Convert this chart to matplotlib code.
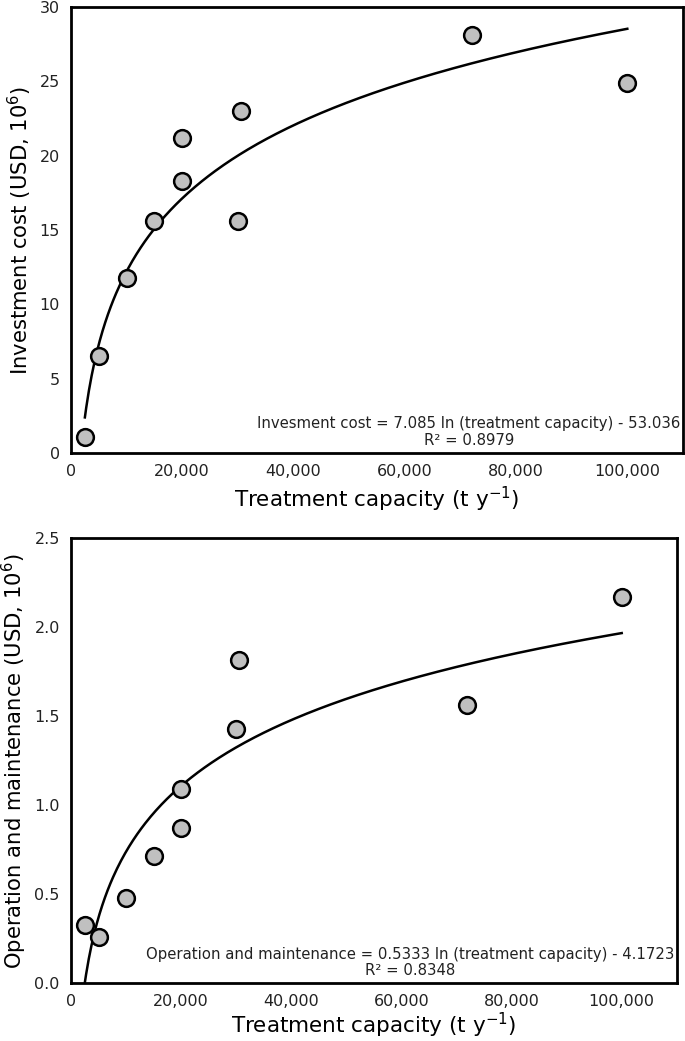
import matplotlib
matplotlib.use("Agg")
import matplotlib.pyplot as plt
import numpy as np
from matplotlib.ticker import FuncFormatter

# capacity (t/y) and costs (USD, 10^6)
cap = [2500, 5000, 10000, 15000, 20000, 20000, 30000, 30500, 72000, 100000]
inv = [1.1, 6.5, 11.8, 15.6, 18.3, 21.2, 15.6, 23.0, 28.1, 24.9]

cap_om = [2500, 5000, 10000, 15000, 20000, 20000, 30000, 30500, 72000, 100000]
om = [0.33, 0.26, 0.48, 0.715, 0.87, 1.09, 1.43, 1.815, 1.565, 2.17]

# log fits as given in the figure
fit_inv = (7.085, -53.036, 0.8979)
fit_om = (0.5333, -4.1723, 0.8348)

plt.rcParams.update({'font.family': 'DejaVu Sans', 'font.size': 10})

fig = plt.figure(figsize=(6.85, 10.41), dpi=100)
ax1 = fig.add_axes([0.1036, 0.5648, 0.8934, 0.4285])
ax2 = fig.add_axes([0.1036, 0.0554, 0.8844, 0.4275])

thou = FuncFormatter(lambda v, p: '{:,.0f}'.format(v))
xs = np.linspace(2500, 100000, 400)


def panel(ax, x, y, fit, ylim, yticks, yfmt, ylabel, eqtext, xpad):
    a, b, r2 = fit
    ax.plot(xs, a*np.log(xs) + b, color='black', lw=1.8, zorder=2)
    ax.scatter(x, y, s=145, facecolor='#c0c0c0', edgecolor='black', linewidth=1.8, zorder=3)
    ax.set_xlim(0, 110000)
    ax.set_ylim(*ylim)
    ax.set_xticks([0, 20000, 40000, 60000, 80000, 100000])
    ax.xaxis.set_major_formatter(thou)
    ax.set_yticks(yticks)
    ax.yaxis.set_major_formatter(FuncFormatter(lambda v, p: yfmt.format(v)))
    ax.tick_params(length=0, labelsize=11.5, colors='#222222', pad=8)
    for s in ax.spines.values():
        s.set_linewidth(2)
    ax.set_xlabel(r'Treatment capacity (t y$^{\mathregular{-1}}$)', fontsize=15.5, labelpad=xpad)
    ax.set_ylabel(ylabel, fontsize=15.2, labelpad=4)
    ax.text(0.996, 0.012, eqtext + '\nR² = {:.4f}'.format(r2), transform=ax.transAxes,
            ha='right', va='bottom', multialignment='center', fontsize=10.7,
            color='#222222', linespacing=1.1)


panel(ax1, cap, inv, fit_inv, (0, 30), [0, 5, 10, 15, 20, 25, 30], '{:.0f}',
      r'Investment cost (USD, 10$^{\mathregular{6}}$)',
      'Invesment cost = 7.085 ln (treatment capacity) - 53.036', 4)
panel(ax2, cap_om, om, fit_om, (0, 2.5), [0, 0.5, 1.0, 1.5, 2.0, 2.5], '{:.1f}',
      r'Operation and maintenance (USD, 10$^{\mathregular{6}}$)',
      'Operation and maintenance = 0.5333 ln (treatment capacity) - 4.1723', 1)

fig.savefig('out.png', dpi=100)
